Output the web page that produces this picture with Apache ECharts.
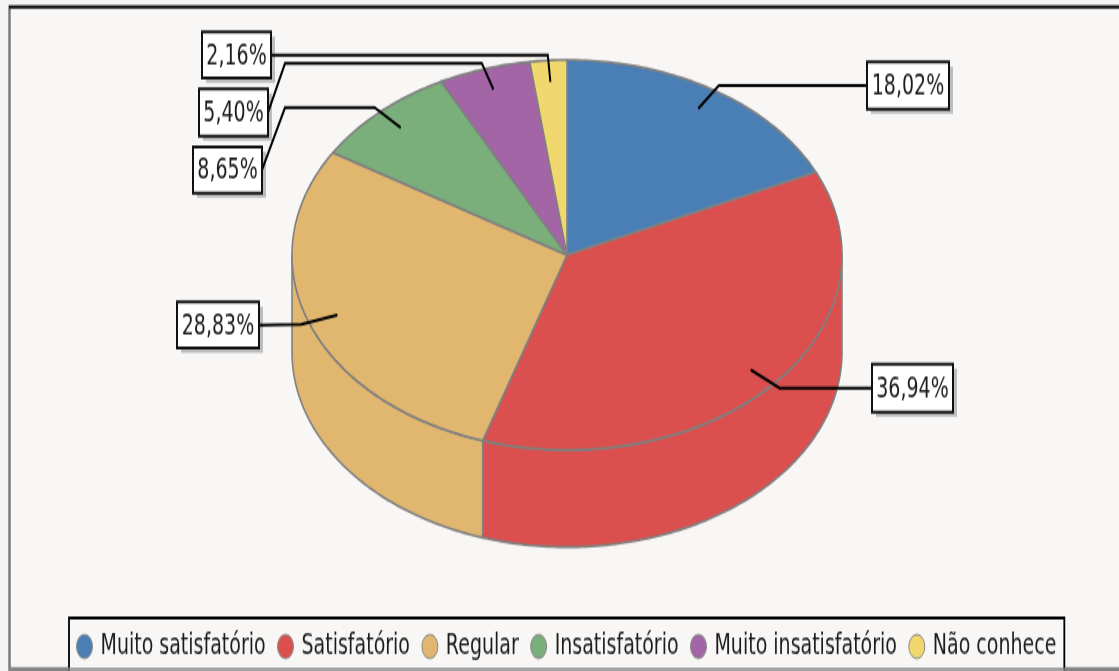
<!DOCTYPE html>
<html><head><meta charset="utf-8">
<style>
html,body{margin:0;padding:0;background:#f3f3f3;width:1119px;height:671px}
html{overflow:hidden}
/* the reference is a bitmap stretched vertically by 1.5 and softened */
#c{width:1119px;height:447.33px;transform:scaleY(1.5);transform-origin:0 0;filter:blur(0.5px)}
</style>
<script src="https://cdn.jsdelivr.net/npm/echarts@6/dist/echarts.min.js"></script>
</head><body><div id="c"></div>
<script>
const categories = ['Muito satisfatório','Satisfatório','Regular','Insatisfatório','Muito insatisfatório','Não conhece'];
const percents = [18.02,36.94,28.83,8.65,5.40,2.16];
const colors = ['#4a7fb5','#db4f4e','#e1b76f','#7aae7a','#a365a5','#f0d86f'];
const S = 1.5;
// pixel layout (unstretched): top ellipse centre, radii, extrusion depth
const pie = {cx:567, cy:255/S, rx:275, ry:195/S, depth:97/S};
// label boxes: [left, top, width, height], given in stretched pixels
const boxes = [[867,62,82,47],[872,364,81,48],[177,302,82,46],[193,147,69,46],[199,89,69,47],[202,32,69,46]];
const edge = '#808080';
const FONT = '"DejaVu Sans",sans-serif';

const total = percents.reduce((a,b)=>a+b,0);
let acc = 0;
const spans = percents.map(v=>{const s=acc/total*360; acc+=v; return [s,acc/total*360];});
const rad = d=>d*Math.PI/180;
const pt = (deg,k=1,dy=0)=>[pie.cx+pie.rx*k*Math.sin(rad(deg)), pie.cy+dy-pie.ry*k*Math.cos(rad(deg))];
function arcPts(a,b,dy){const n=Math.max(2,Math.ceil(Math.abs(b-a)));const o=[];for(let i=0;i<=n;i++)o.push(pt(a+(b-a)*i/n,1,dy));return o;}

function renderSlice(i){
  return function(){
    const [a,b]=spans[i];
    const children=[];
    const sa=Math.max(a,90), sb=Math.min(b,270);
    if(sb>sa){
      const top=arcPts(sa,sb,0), bot=arcPts(sb,sa,pie.depth);
      children.push({type:'polygon',shape:{points:top.concat(bot)},style:{fill:colors[i],stroke:edge,lineWidth:1.6,lineJoin:'round'}});
    }
    const face=[[pie.cx,pie.cy]].concat(arcPts(a,b,0));
    children.push({type:'polygon',z2:5,shape:{points:face},style:{fill:colors[i],stroke:edge,lineWidth:1.6,lineJoin:'round'}});
    return {type:'group',children};
  };
}
function renderLabel(i){
  return function(){
    const mid=(spans[i][0]+spans[i][1])/2;
    const anchor=pt(mid,0.89), elbow=pt(mid,1.03);
    const b=boxes[i];
    const box=[b[0],b[1]/S,b[2],b[3]/S];
    const right=elbow[0]>pie.cx;
    const bx=right?box[0]:box[0]+box[2], by=box[1]+box[3]/2;
    let pts;
    if(i===3||i===4){ pts=[anchor,elbow,[285,elbow[1]],[bx,by]]; }
    else if(i===2){ pts=[anchor,elbow,[bx,by]]; }
    else { pts=[anchor,[elbow[0],by],[bx,by]]; }
    return {type:'group',children:[
      {type:'rect',z2:19,shape:{x:box[0]+4,y:box[1]+3.2,width:box[2],height:box[3]},style:{fill:'#bdbdbd'}},
      {type:'polyline',z2:20,shape:{points:pts},style:{fill:'none',stroke:'#000',lineWidth:2}},
      {type:'rect',z2:22,shape:{x:box[0],y:box[1],width:box[2],height:box[3]},style:{fill:'#fff',stroke:'#111',lineWidth:2}},
      {type:'text',z2:23,style:{x:box[0]+box[2]/2,y:box[1]+box[3]/2+1,text:percents[i].toFixed(2).replace('.',',')+'%',
        align:'center',verticalAlign:'middle',font:'19px '+FONT,fill:'#1c1c1c'}}
    ]};
  };
}
const series=[];
categories.forEach((n,i)=>series.push({type:'custom',name:n,coordinateSystem:'none',data:[percents[i]],
  z:2,renderItem:renderSlice(i),itemStyle:{color:colors[i]},silent:true,animation:false}));
categories.forEach((n,i)=>series.push({type:'custom',name:'label '+n,coordinateSystem:'none',data:[percents[i]],
  z:5,renderItem:renderLabel(i),silent:true,animation:false}));

const chart=echarts.init(document.getElementById('c'),null,{renderer:'canvas'});
chart.setOption({
  animation:false,
  backgroundColor:'#f3f3f3',
  graphic:[{type:'rect',z:-1,shape:{x:9.5,y:7/S,width:1125,height:662/S},style:{fill:'#f8f7f6',stroke:'#777',lineWidth:2.4}},
           {type:'line',z:-1,shape:{x1:9,y1:7/S,x2:1119,y2:7/S},style:{stroke:'#000',lineWidth:1.6}},
           {type:'line',z:50,shape:{x1:9,y1:669/S,x2:1119,y2:669/S},style:{stroke:'#888',lineWidth:1.6}}],
  legend:{
    data:categories,left:69,top:618/S,orient:'horizontal',
    padding:[9.5,8,14,7],itemGap:11.4,itemWidth:16,itemHeight:17,icon:'circle',symbolKeepAspect:false,
    backgroundColor:'#f8f7f6',borderColor:'#000',borderWidth:1.8,
    itemStyle:{borderColor:'#8a8a8a',borderWidth:1},
    textStyle:{fontFamily:FONT,fontSize:19,color:'#1c1c1c',padding:[0,0,0,3]},
    selectedMode:false
  },
  series
});
</script></body></html>
